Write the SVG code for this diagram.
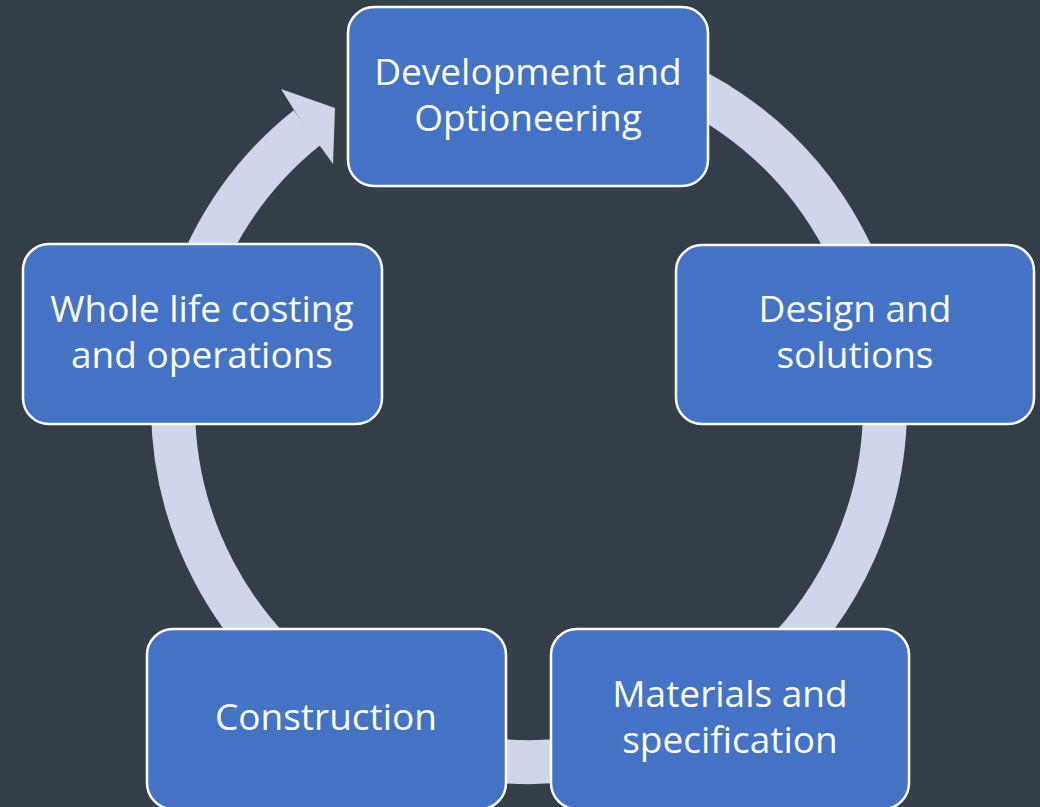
<svg xmlns="http://www.w3.org/2000/svg" width="1040" height="807" viewBox="0 0 1040 807">
  <style>
    .box { fill: #4472C4; stroke: #FFFFFF; stroke-width: 2.5; }
    .lbl { fill: #FFFFFF; font-family: "Open Sans", "Noto Sans", sans-serif; font-size: 37px; text-anchor: middle; }
    .ring { fill: none; stroke: #CFD5EA; stroke-width: 44; stroke-linecap: butt; }
    .head { fill: #CFD5EA; }
  </style>
  <rect x="0" y="0" width="1040" height="807" fill="#333E48"/>
  <g id="connectors">
    <path class="ring" d="M 590.8 55.4 A 356 356 0 1 1 307.4 127.4"/>
    <polygon class="head" points="281,89 335,108 333,164 320,146 294,110"/>
  </g>
  <g id="node-development">
    <rect class="box" x="348" y="7" width="360" height="179" rx="26" ry="26"/>
    <text class="lbl" x="528" y="85">Development and</text>
    <text class="lbl" x="528" y="131">Optioneering</text>
  </g>
  <g id="node-design">
    <rect class="box" x="676" y="245" width="358" height="179" rx="26" ry="26"/>
    <text class="lbl" x="855" y="322">Design and</text>
    <text class="lbl" x="855" y="368">solutions</text>
  </g>
  <g id="node-materials">
    <rect class="box" x="551" y="629" width="358" height="180" rx="26" ry="26"/>
    <text class="lbl" x="730" y="707">Materials and</text>
    <text class="lbl" x="730" y="753">specification</text>
  </g>
  <g id="node-construction">
    <rect class="box" x="147" y="629" width="359" height="180" rx="26" ry="26"/>
    <text class="lbl" x="326" y="730">Construction</text>
  </g>
  <g id="node-whole-life">
    <rect class="box" x="23" y="244" width="359" height="180" rx="26" ry="26"/>
    <text class="lbl" x="202" y="322">Whole life costing</text>
    <text class="lbl" x="202" y="368">and operations</text>
  </g>
</svg>
